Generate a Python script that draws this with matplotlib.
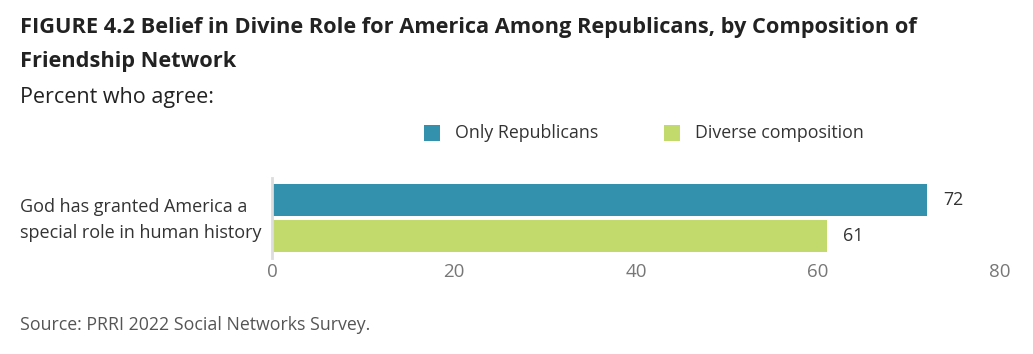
import matplotlib
matplotlib.use("Agg")
import matplotlib.pyplot as plt
from matplotlib.patches import Rectangle

plt.rcParams['font.family'] = ['Open Sans', 'DejaVu Sans']

categories = ["God has granted America a\nspecial role in human history"]
series_names = ["Only Republicans", "Diverse composition"]
only_republicans = [72]
diverse = [61]
xticks = [0, 20, 40, 60, 80]
colors = ["#3391AE", "#C2D96B"]

W, H = 1033, 354
fig = plt.figure(figsize=(W / 100, H / 100), dpi=100)

def fx(px):
    return px / W

def fy(py):
    return 1 - py / H

# titles
fig.text(fx(20), fy(27), "FIGURE 4.2 Belief in Divine Role for America Among Republicans, by Composition of",
         fontsize=15.7, fontweight='bold', color="#222222", va='center', ha='left')
fig.text(fx(20), fy(62), "Friendship Network",
         fontsize=15.7, fontweight='bold', color="#222222", va='center', ha='left')
fig.text(fx(20), fy(97), "Percent who agree:",
         fontsize=15.5, color="#222222", va='center', ha='left')

# legend
leg_x = [424, 664]
for name, c, lx in zip(series_names, colors, leg_x):
    fig.patches.append(Rectangle((fx(lx), fy(141)), fx(16), 16 / H, transform=fig.transFigure,
                                 facecolor=c, edgecolor='none'))
    fig.text(fx(lx + 31), fy(133), name, fontsize=12.8, color="#333333", va='center', ha='left')

# axes
top_px, bot_px = 178.4, 257.6
ax = fig.add_axes([fx(272), fy(bot_px), fx(1000) - fx(272), (bot_px - top_px) / H])
h = 0.89
vals = [only_republicans[0], diverse[0]]
ypos = [0, 1]
for y, v, c in zip(ypos, vals, colors):
    ax.barh(y, v, height=h, color=c, edgecolor='none')
    ax.text(v + 1.8, y, f"{v}", va='center', ha='left', fontsize=12.8, color="#333333")

ax.set_xlim(0, 80)
ax.set_ylim(1.6, -0.6)
ax.set_xticks(xticks)
ax.set_xticklabels([str(t) for t in xticks])
ax.tick_params(axis='x', length=0, labelsize=13.5, labelcolor="#777777", pad=4)
ax.set_yticks([])
for s in ['top', 'right', 'bottom']:
    ax.spines[s].set_visible(False)
ax.spines['left'].set_color("#DDDDDD")
ax.spines['left'].set_linewidth(2)
ax.patch.set_alpha(0)

# category label
fig.text(fx(20), fy(220), categories[0], fontsize=13, color="#333333", va='center', ha='left',
         linespacing=1.55)

fig.text(fx(20), fy(325), "Source: PRRI 2022 Social Networks Survey.", fontsize=12.75,
         color="#555555", va='center', ha='left')

fig.savefig("out.png", dpi=100, facecolor='white')
